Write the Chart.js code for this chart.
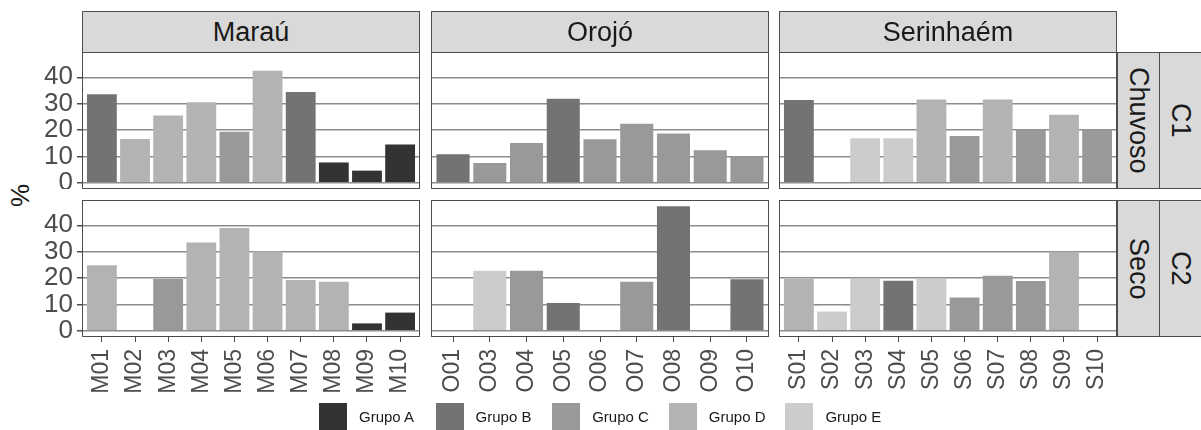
<!DOCTYPE html>
<html>
<head>
<meta charset="utf-8">
<script src="https://cdn.jsdelivr.net/npm/chart.js@4"></script>
<style>
  body { margin: 0; width: 1201px; height: 430px; background: #fff; overflow: hidden; position: relative;
         font-family: 'Liberation Sans', Arial, sans-serif; }
  canvas, .strip, .legend-item, #ylabel { position: absolute; }
  .strip { box-sizing: border-box; background: #d9d9d9; border: 1px solid #4d4d4d; color: #1a1a1a;
           font-size: 27px; display: flex; align-items: center; justify-content: center; }
  .strip.side { writing-mode: vertical-rl; }
  .legend-item { top: 403px; height: 27px; display: flex; align-items: center; font-size: 15px; color: #1a1a1a; }
  .legend-item span.box { width: 28px; height: 27px; margin-right: 12px; }
  #ylabel { left: 9px; top: 180px; font-size: 26px; color: #1a1a1a; transform: rotate(-90deg); }
</style>
</head>
<body>
<div id="ylabel">%</div>
<script>
// === Données ===
const catsMarau = ['M01', 'M02', 'M03', 'M04', 'M05', 'M06', 'M07', 'M08', 'M09', 'M10'];
const catsOrojo = ['O01', 'O03', 'O04', 'O05', 'O06', 'O07', 'O08', 'O09', 'O10'];
const catsSerinhaem = ['S01', 'S02', 'S03', 'S04', 'S05', 'S06', 'S07', 'S08', 'S09', 'S10'];

// Chuvoso (C1)
const marauChuvoso      = [33.6, 16.6, 25.5, 30.5, 19.4, 42.5, 34.4, 7.7, 4.6, 14.5];
const marauChuvosoGrupo = ['B', 'D', 'D', 'D', 'C', 'D', 'B', 'A', 'A', 'A'];
const orojoChuvoso      = [10.8, 7.5, 15.1, 31.9, 16.5, 22.4, 18.7, 12.3, 10.0];
const orojoChuvosoGrupo = ['B', 'C', 'C', 'B', 'C', 'C', 'C', 'C', 'C'];
const serinhaemChuvoso      = [31.4, null, 16.9, 16.9, 31.6, 17.7, 31.6, 20.2, 25.8, 20.2];
const serinhaemChuvosoGrupo = ['B', null, 'E', 'E', 'D', 'C', 'D', 'C', 'D', 'C'];

// Seco (C2)
const marauSeco      = [24.9, null, 19.6, 33.5, 39.0, 30.1, 19.3, 18.6, 2.8, 6.9];
const marauSecoGrupo = ['D', null, 'C', 'D', 'D', 'D', 'D', 'D', 'A', 'A'];
const orojoSeco      = [null, 22.8, 22.8, 10.5, null, 18.6, 47.2, null, 19.5];
const orojoSecoGrupo = [null, 'E', 'C', 'B', null, 'C', 'B', null, 'B'];
const serinhaemSeco      = [19.6, 7.3, 19.6, 19.0, 19.6, 12.6, 20.9, 18.9, 30.0, null];
const serinhaemSecoGrupo = ['D', 'E', 'E', 'B', 'E', 'C', 'C', 'C', 'D', null];

const yTicks = [0, 10, 20, 30, 40];
const grupoCodes = ['A', 'B', 'C', 'D', 'E'];
const grupoNomes = ['Grupo A', 'Grupo B', 'Grupo C', 'Grupo D', 'Grupo E'];
const grupoCores = ['#333333', '#737373', '#999999', '#b3b3b3', '#cccccc'];

const colunas = ['Maraú', 'Orojó', 'Serinhaém'];
const linhas = ['Chuvoso', 'Seco'];
const linhasCodigo = ['C1', 'C2'];

// === Mise en page (pixels) ===
const colLeft = [82, 431, 779];
const colWidth = 337;
const rowTop = [52, 200];
const rowHeight = 137;
const yMin = -2.36, yMax = 49.6;

Chart.defaults.font.family = "'Liberation Sans', Arial, sans-serif";

// bordure de chaque panneau
const panelBorder = {
  id: 'panelBorder',
  afterDraw(chart) {
    const a = chart.chartArea, ctx = chart.ctx;
    ctx.save();
    ctx.strokeStyle = '#4d4d4d';
    ctx.lineWidth = 1;
    ctx.strokeRect(a.left + 0.5, a.top + 0.5, a.right - a.left - 1, a.bottom - a.top - 1);
    ctx.restore();
  }
};

function couleur(g) {
  return g ? grupoCores[grupoCodes.indexOf(g)] : 'rgba(0,0,0,0)';
}

function makePanel(col, row, cats, values, grupos) {
  const showY = col === 0;
  const showX = row === 1;
  const axisW = showY ? colLeft[0] : 0;
  const axisH = showX ? 67 : 0;

  const canvas = document.createElement('canvas');
  canvas.width = colWidth + axisW + 1;
  canvas.height = rowHeight + axisH;
  canvas.style.left = (colLeft[col] - axisW) + 'px';
  canvas.style.top = rowTop[row] + 'px';
  document.body.appendChild(canvas);

  new Chart(canvas, {
    type: 'bar',
    data: {
      datasets: [{
        data: values.map((v, i) => ({ x: i, y: v })),
        backgroundColor: grupos.map(couleur),
        borderWidth: 0,
        barPercentage: 0.9,
        categoryPercentage: 1.0
      }]
    },
    options: {
      responsive: false,
      animation: false,
      devicePixelRatio: 1,
      layout: { padding: 0 },
      plugins: { legend: { display: false }, tooltip: { enabled: false } },
      scales: {
        x: {
          type: 'linear',
          display: showX,
          min: -0.6,
          max: cats.length - 1 + 0.6,
          offset: false,
          afterBuildTicks: s => { s.ticks = cats.map((c, i) => ({ value: i })); },
          afterFit: s => { s.height = axisH; s.paddingLeft = 0; s.paddingRight = 0; },
          border: { display: false },
          grid: { drawOnChartArea: false, offset: false, tickLength: 5, tickColor: '#4d4d4d', color: '#4d4d4d' },
          ticks: {
            autoSkip: false,
            minRotation: 90,
            maxRotation: 90,
            padding: 7,
            color: '#4d4d4d',
            font: { size: 23 },
            callback: v => cats[v]
          }
        },
        y: {
          type: 'linear',
          min: yMin,
          max: yMax,
          afterBuildTicks: s => { s.ticks = yTicks.map(v => ({ value: v })); },
          afterFit: s => { s.width = axisW; s.paddingTop = 0; s.paddingBottom = 0; },
          border: { display: false },
          grid: { color: '#8c8c8c', lineWidth: 1.5, drawTicks: showY, tickLength: 5, tickColor: '#4d4d4d' },
          ticks: { display: showY, autoSkip: false, padding: 4, color: '#4d4d4d', font: { size: 26 } }
        }
      }
    },
    plugins: [panelBorder]
  });
}

makePanel(0, 0, catsMarau, marauChuvoso, marauChuvosoGrupo);
makePanel(1, 0, catsOrojo, orojoChuvoso, orojoChuvosoGrupo);
makePanel(2, 0, catsSerinhaem, serinhaemChuvoso, serinhaemChuvosoGrupo);
makePanel(0, 1, catsMarau, marauSeco, marauSecoGrupo);
makePanel(1, 1, catsOrojo, orojoSeco, orojoSecoGrupo);
makePanel(2, 1, catsSerinhaem, serinhaemSeco, serinhaemSecoGrupo);

// === Bandeaux (strips) ===
function strip(text, left, top, w, h, side) {
  const d = document.createElement('div');
  d.className = 'strip' + (side ? ' side' : '');
  d.style.left = left + 'px'; d.style.top = top + 'px';
  d.style.width = w + 'px'; d.style.height = h + 'px';
  d.textContent = text;
  document.body.appendChild(d);
}
colunas.forEach((c, i) => strip(c, colLeft[i], 11, colWidth + 1, 42, false));
linhas.forEach((l, r) => {
  strip(l, 1117, rowTop[r], 43, rowHeight, true);
  strip(linhasCodigo[r], 1159, rowTop[r], 43, rowHeight, true);
});

// === Légende ===
grupoNomes.forEach((nome, i) => {
  const it = document.createElement('div');
  it.className = 'legend-item';
  it.style.left = (319 + i * 116.6) + 'px';
  it.innerHTML = '<span class="box" style="background:' + grupoCores[i] + '"></span>' + nome;
  document.body.appendChild(it);
});
</script>
</body>
</html>
